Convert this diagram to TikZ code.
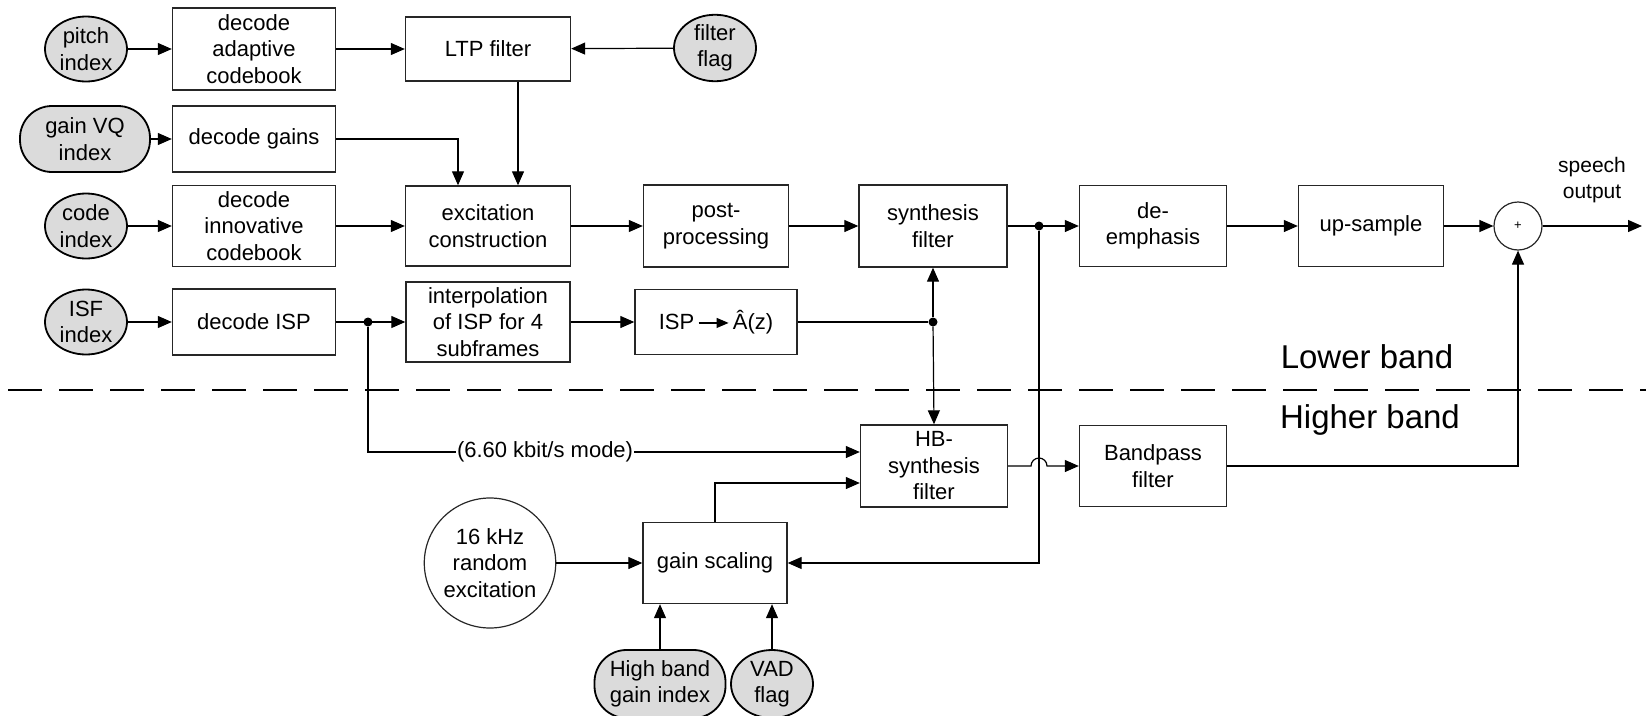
\documentclass[tikz,border=0pt]{standalone}
\usepackage{fontspec}
\setmainfont{Liberation Sans}
\usetikzlibrary{arrows.meta,shapes.geometric,calc}
\begin{document}
\begin{tikzpicture}[x=1pt,y=-1pt,
  font=\fontsize{22}{26.5}\selectfont,
  box/.style={draw=black!85, line width=1.4pt, align=center, inner sep=0pt},
  idx/.style={ellipse, draw=black, fill=gray!28, line width=1.8pt, align=center, inner sep=0pt, minimum width=82pt, minimum height=65pt},
  pill/.style={rounded corners=32pt, draw=black, fill=gray!28, line width=1.8pt, align=center, inner sep=0pt},
  arr/.style={-{Triangle[length=14pt,width=12pt]}, line width=1.2pt},
  ln/.style={line width=1.2pt},
  jdot/.style={circle, fill=black, inner sep=0pt, minimum size=9pt}
]
\useasboundingbox (0,0) rectangle (1646,715);

% ---- inputs (left column)
\node[idx] (pitch) at (86,49) {pitch\\index};
\node[pill, minimum width=130pt, minimum height=66pt] (gainvq) at (85,139) {gain VQ\\index};
\node[idx] (code) at (86,226) {code\\index};
\node[idx] (isf) at (86,322) {ISF\\index};

% ---- decoders
\node[box, minimum width=163pt, minimum height=82pt] (dac) at (254,49) {decode\\adaptive\\codebook};
\node[box, minimum width=163pt, minimum height=66pt] (dg) at (254,139) {decode gains};
\node[box, minimum width=163pt, minimum height=81pt] (dic) at (254,226) {decode\\innovative\\codebook};
\node[box, minimum width=163pt, minimum height=66pt] (disp) at (254,322) {decode ISP};

% ---- middle
\node[box, minimum width=165pt, minimum height=64pt] (ltp) at (488,49) {LTP filter};
\node[idx] (flag) at (715,48) {filter\\flag};
\node[box, minimum width=165pt, minimum height=80pt] (exc) at (488,226) {excitation\\construction};
\node[box, minimum width=164pt, minimum height=80pt] (interp) at (488,322) {interpolation\\of ISP for 4\\subframes};
\node[box, minimum width=145pt, minimum height=82pt] (post) at (716,226) {post-\\processing};
\node[box, minimum width=162pt, minimum height=65pt] (isp2a) at (716,322)
  {ISP\,\tikz[baseline=-0.55ex]{\draw[line width=1.2pt,-{Triangle[length=12pt,width=10pt]}] (0pt,0pt) -- (30pt,0pt);}\,Â(z)};
\node[box, minimum width=148pt, minimum height=82pt] (synth) at (933,226) {synthesis\\filter};
\node[box, minimum width=147pt, minimum height=81pt] (deemph) at (1153,226) {de-\\emphasis};
\node[box, minimum width=145pt, minimum height=81pt] (up) at (1371,226) {up-sample};
\node[circle, draw=black!85, line width=1.2pt, minimum size=48pt, inner sep=0pt] (sum) at (1518,226) {\fontsize{13}{13}\selectfont +};
\node[align=center, font=\fontsize{21}{26}\selectfont] (spout) at (1592,180) {speech\\output};
\coordinate (out) at (1642,226);

% ---- junctions
\node[jdot] (j1) at (368,322) {};
\node[jdot] (j2) at (933,322) {};
\node[jdot] (j3) at (1039,226) {};

% ---- band labels and separator
\node[font=\fontsize{33}{36}\selectfont] (lb) at (1367,357) {Lower band};
\node[font=\fontsize{33}{36}\selectfont] (hbl) at (1370,420) {Higher band};
\draw[line width=1.6pt, dash pattern=on 34pt off 17pt] (8,390) -- (1646,390);

% ---- higher band
\node[box, minimum width=147pt, minimum height=82pt] (hb) at (934,466) {HB-\\synthesis\\filter};
\node[box, minimum width=147pt, minimum height=81pt] (bp) at (1153,466) {Bandpass\\filter};
\node[ellipse, draw=black!85, line width=1.2pt, minimum width=131pt, minimum height=130pt, inner sep=0pt, align=center] (rnd) at (490,563) {16 kHz\\random\\excitation};
\node[box, minimum width=144pt, minimum height=81pt] (gs) at (715,563) {gain scaling};
\node[pill, minimum width=131pt, minimum height=68pt] (hbg) at (660,684) {High band\\gain index};
\node[idx, minimum width=82pt, minimum height=68pt] (vad) at (772,684) {VAD\\flag};

% ---- connectors: lower band
\draw[arr] (pitch) -- (dac);
\draw[arr] (dac) -- (ltp);
\draw[arr] (flag) -- (ltp);
\draw[arr] (gainvq) -- (dg);
\draw[arr] (dg.east) -| ([xshift=-30pt]exc.north);
\draw[arr] ([xshift=30pt]ltp.south) -- ([xshift=30pt]exc.north);
\draw[arr] (code) -- (dic);
\draw[arr] (dic) -- (exc);
\draw[arr] (exc) -- (post);
\draw[arr] (post) -- (synth);
\draw[arr] (synth) -- (deemph);
\draw[arr] (deemph) -- (up);
\draw[arr] (up) -- (sum);
\draw[arr] (sum) -- (out);
\draw[arr] (isf) -- (disp);
\draw[arr] (disp) -- (interp);
\draw[arr] (interp) -- (isp2a);
\draw[ln] (isp2a.east) -- (j2);
\draw[arr] (j2) -- (synth.south);
\draw[arr] (j2) -- (hb.north);

% ---- connectors: higher band
\draw[arr] (j1) |- node[pos=0.68, fill=white, inner sep=1pt] {(6.60 kbit/s mode)} ([yshift=14pt]hb.west);
\draw[arr] (gs.north) |- ([yshift=-17pt]hb.west);
\draw[arr] (rnd) -- (gs);
\draw[arr] (j3) |- (gs.east);
\draw[arr] (hb.east) -- ($(hb.east -| j3)+(-8,0)$) arc[start angle=180, end angle=0, radius=8pt] -- (bp.west);
\draw[arr] (bp.east) -| (sum.south);
\draw[arr] (hbg.north -| 660,0) -- (gs.south -| 660,0);
\draw[arr] (vad.north) -- (gs.south -| vad.north);
\end{tikzpicture}
\end{document}
